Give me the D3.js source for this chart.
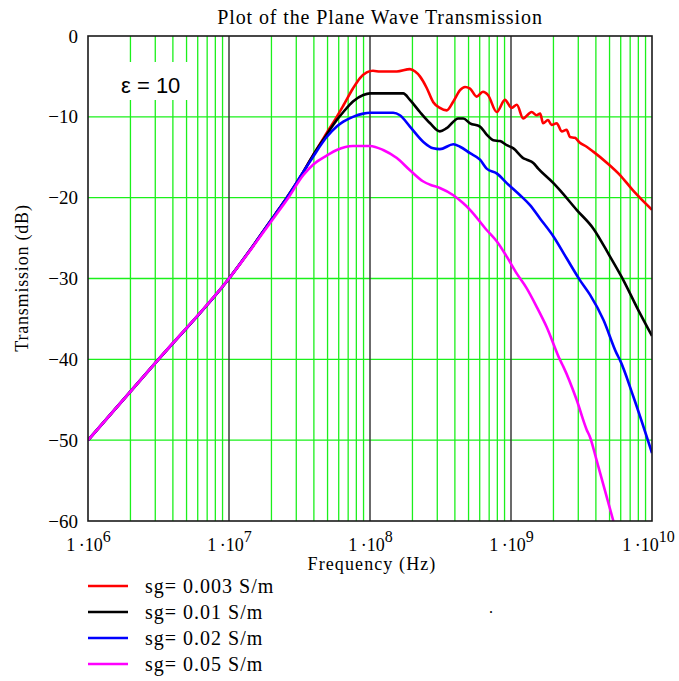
<!DOCTYPE html>
<html>
<head>
<meta charset="utf-8">
<script src="https://cdn.jsdelivr.net/npm/d3@7"></script>
<style>
  body { margin: 0; background: #fff; }
  svg text { font-family: "Liberation Serif", "Times New Roman", serif; fill: #000; }
</style>
</head>
<body>
<div id="chart"></div>
<script>
// frequency (Hz) / transmission (dB) pairs
const lowFreq = [[1e6, -50], [3.16e6, -40], [1e7, -30], [2.12e7, -22.1], [2.57e7, -20]];

const sg003 = lowFreq.concat([
  [3.37e7, -16.8], [3.96e7, -14.7], [4.93e7, -12.0], [5.81e7, -10.0], [6.47e7, -8.6],
  [7.57e7, -6.5], [8.49e7, -5.2], [9.48e7, -4.5], [1.05e8, -4.3], [1.18e8, -4.4],
  [1.55e8, -4.4], [1.92e8, -4.1], [2.09e8, -4.4], [2.26e8, -5.0], [2.52e8, -6.4],
  [2.81e8, -8.2], [3.13e8, -8.9], [3.5e8, -9.2], [3.9e8, -8.1], [4.35e8, -6.7],
  [4.72e8, -6.3], [5.12e8, -6.5], [5.71e8, -7.5], [6.33e8, -6.9], [6.87e8, -7.3],
  [7.92e8, -9.4], [9.06e8, -7.9], [1.01e9, -8.9], [1.1e9, -8.5], [1.22e9, -10.2],
  [1.4e9, -9.4], [1.52e9, -9.8], [1.61e9, -9.6], [1.69e9, -10.8], [1.83e9, -10.4],
  [1.94e9, -11.0], [2.11e9, -10.8], [2.29e9, -11.8], [2.48e9, -11.6], [2.62e9, -12.5],
  [2.84e9, -12.6], [3.08e9, -13.2], [3.44e9, -13.7], [3.83e9, -14.3], [4.8e9, -15.7],
  [5.93e9, -17.2], [7.33e9, -19.1], [1e10, -21.5]
]);

const sg01 = lowFreq.concat([
  [3.37e7, -16.8], [3.96e7, -14.7], [4.93e7, -12.2], [5.81e7, -10.4], [6.47e7, -9.4],
  [7.57e7, -8.1], [8.96e7, -7.3], [1e8, -7.1], [1.72e8, -7.1], [1.92e8, -7.9],
  [2.26e8, -9.4], [2.67e8, -10.8], [3.13e8, -11.8], [3.5e8, -11.4], [4.23e8, -10.2],
  [4.59e8, -10.2], [5.12e8, -10.8], [6.03e8, -11.2], [6.72e8, -12.2], [7.49e8, -12.9],
  [8.36e8, -13.0], [9.33e8, -13.5], [1.04e9, -13.9], [1.22e9, -15.1], [1.29e9, -15.3],
  [1.44e9, -15.7], [1.56e9, -16.4], [2.0e9, -18.2], [2.23e9, -19.1], [2.92e9, -21.5],
  [3.83e9, -23.8], [5.04e9, -27.3], [6.26e9, -30.2], [7.78e9, -33.5], [1e10, -37.1]
]);

const sg02 = lowFreq.concat([
  [3.37e7, -16.8], [3.96e7, -14.9], [4.93e7, -12.5], [5.81e7, -11.2], [6.47e7, -10.6],
  [7.57e7, -10.0], [8.96e7, -9.6], [1e8, -9.5], [1.46e8, -9.5], [1.63e8, -9.8],
  [1.92e8, -11.2], [2.39e8, -13.1], [2.81e8, -13.9], [3.13e8, -14.0], [3.9e8, -13.4],
  [4.35e8, -13.7], [5.12e8, -14.5], [6.03e8, -15.3], [6.72e8, -16.4], [7.92e8, -17.0],
  [9.33e8, -18.2], [1.16e9, -19.7], [1.36e9, -20.9], [1.61e9, -22.6], [2.0e9, -24.8],
  [2.48e9, -27.5], [3.08e9, -30.2], [3.63e9, -32.0], [4.52e9, -35.1], [5.62e9, -39.3],
  [5.93e9, -40.1], [7.37e9, -44.6], [1e10, -51.6]
]);

const sg05 = [
  [1e6, -50], [3.16e6, -40], [1e7, -30], [2.12e7, -22.3], [2.57e7, -20.3],
  [3.37e7, -17.2], [3.96e7, -15.9], [4.93e7, -14.8], [5.81e7, -14.1], [7.57e7, -13.6],
  [1e8, -13.6], [1.24e8, -14.1], [1.55e8, -15.1], [1.92e8, -16.6], [2.39e8, -18.0],
  [2.67e8, -18.4], [3.13e8, -18.8], [3.9e8, -19.7], [4.59e8, -20.7], [5.12e8, -21.5],
  [6.72e8, -24.0], [7.92e8, -25.4], [9.33e8, -27.3], [1.1e9, -29.4], [1.29e9, -31.2],
  [1.52e9, -33.5], [1.79e9, -36.0], [2.23e9, -40.1], [2.35e9, -40.9], [2.92e9, -45.0],
  [3.44e9, -48.7], [3.63e9, -49.6], [4.05e9, -52.5], [5.32e9, -60]
];

const seriesNames = ['sg= 0.003 S/m', 'sg= 0.01 S/m', 'sg= 0.02 S/m', 'sg= 0.05 S/m'];
const seriesColors = ['#ff0000', '#000000', '#0000ff', '#ff00ff'];
const seriesData = [sg003, sg01, sg02, sg05];

const xTicks = [1e6, 1e7, 1e8, 1e9, 1e10];
const yTicks = [0, -10, -20, -30, -40, -50, -60];

const W = 679, H = 681;
const plot = {left: 88, right: 652, top: 36, bottom: 521};

const svg = d3.select('#chart').append('svg')
  .attr('width', W)
  .attr('height', H);

const x = d3.scaleLog().domain([1e6, 1e10]).range([plot.left, plot.right]);
const y = d3.scaleLinear().domain([-60, 0]).range([plot.bottom, plot.top]);

// minor grid: 2..9 in every decade
const minor = [];
xTicks.slice(0, -1).forEach(d => { for (let k = 2; k <= 9; k++) minor.push(d * k); });

const grid = svg.append('g');
grid.selectAll('.vgrid')
  .data(minor)
  .enter().append('line')
  .attr('class', 'vgrid')
  .attr('x1', d => x(d)).attr('x2', d => x(d))
  .attr('y1', plot.top).attr('y2', plot.bottom)
  .attr('stroke', '#1bf01b')
  .attr('stroke-width', 1.3);

grid.selectAll('.hgrid')
  .data(yTicks.slice(1, -1))
  .enter().append('line')
  .attr('class', 'hgrid')
  .attr('x1', plot.left).attr('x2', plot.right)
  .attr('y1', d => y(d)).attr('y2', d => y(d))
  .attr('stroke', '#1bf01b')
  .attr('stroke-width', 1.3);

grid.selectAll('.decade')
  .data(xTicks.slice(1, -1))
  .enter().append('line')
  .attr('class', 'decade')
  .attr('x1', d => x(d)).attr('x2', d => x(d))
  .attr('y1', plot.top).attr('y2', plot.bottom)
  .attr('stroke', '#3a3a3a')
  .attr('stroke-width', 1.5);

// epsilon label on a white patch
svg.append('rect')
  .attr('x', 110).attr('y', 62)
  .attr('width', 82).attr('height', 38)
  .attr('fill', '#fff');
svg.append('text')
  .attr('x', 121).attr('y', 93)
  .style('font-family', '"Liberation Sans", Arial, sans-serif')
  .style('font-size', '22px')
  .text('\u03b5 = 10');

// curves
svg.append('clipPath').attr('id', 'clip')
  .append('rect')
  .attr('x', plot.left).attr('y', plot.top)
  .attr('width', plot.right - plot.left)
  .attr('height', plot.bottom - plot.top);

const line = d3.line()
  .x(d => x(d[0]))
  .y(d => y(d[1]))
  .curve(d3.curveMonotoneX);

svg.append('g').attr('clip-path', 'url(#clip)')
  .selectAll('path')
  .data(seriesData)
  .enter().append('path')
  .attr('d', line)
  .attr('fill', 'none')
  .attr('stroke', (d, i) => seriesColors[i])
  .attr('stroke-width', 2.6)
  .attr('stroke-linejoin', 'round');

// frame
svg.append('rect')
  .attr('x', plot.left).attr('y', plot.top)
  .attr('width', plot.right - plot.left)
  .attr('height', plot.bottom - plot.top)
  .attr('fill', 'none')
  .attr('stroke', '#1a1a1a')
  .attr('stroke-width', 1.6);

// y axis
const yAxis = svg.append('g')
  .attr('transform', `translate(${plot.left},0)`)
  .call(d3.axisLeft(y).tickValues(yTicks).tickSize(0).tickPadding(10)
    .tickFormat(d => d === 0 ? '0' : '\u2212' + Math.abs(d)));
yAxis.select('.domain').remove();
yAxis.selectAll('text')
  .style('font-family', '"Liberation Serif", "Times New Roman", serif')
  .style('font-size', '19px')
  .attr('dy', '0.32em');

// x axis with 1·10^n labels
const xAxis = svg.append('g')
  .attr('transform', `translate(0,${plot.bottom})`)
  .call(d3.axisBottom(x).tickValues(xTicks).tickSize(0).tickFormat(''));
xAxis.select('.domain').remove();
xAxis.selectAll('.tick').append('text')
  .attr('y', 30)
  .attr('x', d => d === 1e10 ? -4 : 0)
  .attr('text-anchor', 'middle')
  .style('font-family', '"Liberation Serif", "Times New Roman", serif')
  .style('font-size', '18px')
  .each(function(d) {
    const t = d3.select(this);
    t.append('tspan').text('1\u2009\u00b710');
    t.append('tspan').attr('dy', -9).style('font-size', '16px')
      .text(Math.round(Math.log10(d)));
  });

// titles
svg.append('text')
  .attr('x', 380).attr('y', 24)
  .attr('text-anchor', 'middle')
  .style('font-size', '20px')
  .style('letter-spacing', '0.9px')
  .text('Plot of the Plane Wave Transmission');

svg.append('text')
  .attr('x', 372).attr('y', 570)
  .attr('text-anchor', 'middle')
  .style('font-size', '18px')
  .style('letter-spacing', '1.1px')
  .text('Frequency (Hz)');

svg.append('text')
  .attr('transform', 'translate(28,278) rotate(-90)')
  .attr('text-anchor', 'middle')
  .style('font-size', '18px')
  .style('letter-spacing', '0.8px')
  .text('Transmission (dB)');

// legend
const legend = svg.append('g').attr('transform', 'translate(88,586)');
const items = legend.selectAll('g')
  .data(seriesNames)
  .enter().append('g')
  .attr('transform', (d, i) => `translate(0,${i * 26})`);
items.append('line')
  .attr('x1', 0).attr('x2', 40)
  .attr('stroke', (d, i) => seriesColors[i])
  .attr('stroke-width', 2.6);
items.append('text')
  .attr('x', 57).attr('y', 7)
  .style('font-size', '20px')
  .style('letter-spacing', '1px')
  .text(d => d);

svg.append('text')
  .attr('x', 489).attr('y', 613)
  .style('font-size', '16px')
  .text('.');
</script>
</body>
</html>
